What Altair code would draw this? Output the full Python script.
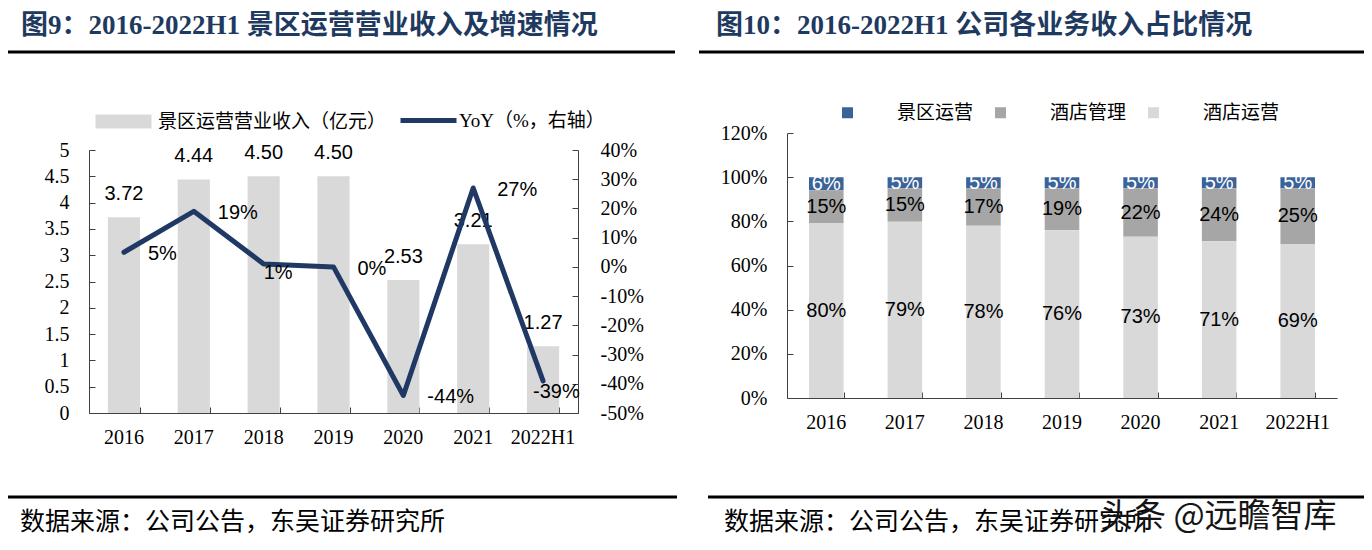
import altair as alt
import pandas as pd

# ---------------- data ----------------
years = ["2016", "2017", "2018", "2019", "2020", "2021", "2022H1"]
revenue = [3.72, 4.44, 4.50, 4.50, 2.53, 3.21, 1.27]          # 景区运营营业收入（亿元）
yoy = [5, 19, 1, 0, -44, 27, -39]                              # YoY (%)

biz = ["景区运营", "酒店管理", "酒店运营"]
share_scenic = [6, 5, 5, 5, 5, 5, 5]
share_hotel_mgmt = [15, 15, 17, 19, 22, 24, 25]
share_hotel_ops = [80, 79, 78, 76, 73, 71, 69]

left_ticks = [0, 0.5, 1, 1.5, 2, 2.5, 3, 3.5, 4, 4.5, 5]
right_ticks = [-50, -40, -30, -20, -10, 0, 10, 20, 30, 40]
pct_ticks = [0, 0.2, 0.4, 0.6, 0.8, 1.0, 1.2]

title_left = "图9：2016-2022H1 景区运营营业收入及增速情况"
title_right = "图10：2016-2022H1 公司各业务收入占比情况"
source_text = "数据来源：公司公告，东吴证券研究所"
watermark = "头条 @远瞻智库"
leg_rev = "景区运营营业收入（亿元）"
leg_yoy = "YoY（%，右轴）"

left_df = pd.DataFrame({"year": years, "rev": revenue, "yoy": yoy})
rows = []
for i, y in enumerate(years):
    for b, vals, o in ((biz[0], share_scenic, 2), (biz[1], share_hotel_mgmt, 1), (biz[2], share_hotel_ops, 0)):
        rows.append({"year": y, "biz": b, "val": vals[i], "ord": o})
right_df = pd.DataFrame(rows)
ann_df = pd.DataFrame({"k": [0]})

# ---------------- styling ----------------
W, H = 1356, 534
SERIF = "Liberation Serif, Times New Roman, Noto Sans CJK SC"
SANS = "Liberation Sans, Arial, Noto Sans CJK SC"
CJK = "Noto Sans CJK SC"
NAVY = "#203864"
TITLE_C = "#1F3A60"
AX = "#404040"
BAR_L = "#D9D9D9"
colors_r = ["#3A639A", "#A6A6A6", "#D9D9D9"]

# left panel geometry
LX0, LX1, LYB, LYT = 81, 570, 405, 142
# right panel geometry
RX0, RX1, RYB, RYT = 779, 1329, 390, 125

LX = alt.Scale(domain=years, range=[LX0, LX1], paddingInner=0.54, paddingOuter=0.27)
LY = alt.Scale(domain=[0, 5], range=[LYB, LYT], nice=False, zero=False)
LY2 = alt.Scale(domain=[-50, 40], range=[LYB, LYT], nice=False, zero=False)
RX = alt.Scale(domain=years, range=[RX0, RX1], paddingInner=0.56, paddingOuter=0.28)
RY = alt.Scale(domain=[0, 1.2], range=[RYB, RYT], nice=False, zero=False)


def tick_axis(orient, offset, values=None, band=False):
    kw = dict(orient=orient, offset=offset, title=None, labels=False, domain=False,
              ticks=True, tickSize=6, tickColor=AX, tickWidth=1, grid=False)
    if values is not None:
        kw["values"] = values
    if band:
        kw["tickBand"] = "extent"
    return alt.Axis(**kw)


x_axis_common = dict(title=None, domain=True, domainColor=AX, domainWidth=1, ticks=False,
                     labelFont=SERIF, labelFontSize=20, labelColor="black", labelAngle=0,
                     labelBaseline="middle", labelPadding=24)
y_axis_common = dict(title=None, domain=True, domainColor=AX, domainWidth=1, ticks=False,
                     grid=False, labelFont=SERIF, labelFontSize=20, labelColor="black",
                     labelFlush=False, labelOverlap=False)

# ---------------- left panel ----------------
bars = alt.Chart(left_df).transform_calculate(s1=f"'{leg_rev}'").mark_bar().encode(
    x=alt.X("year:N", scale=LX, sort=years,
            axis=alt.Axis(orient="bottom", offset=-(H - LYB), **x_axis_common)),
    y=alt.Y("rev:Q", scale=LY,
            axis=alt.Axis(orient="left", offset=-LX0, values=left_ticks, format="~g",
                          labelPadding=20, **y_axis_common)),
    color=alt.Color("s1:N", scale=alt.Scale(range=[BAR_L]),
                    legend=alt.Legend(orient="none", legendX=106, legendY=104, title=None,
                                      symbolType="M-4,-1H4V1H-4Z", symbolSize=196,
                                      symbolStrokeWidth=0, symbolOpacity=1, labelOffset=25,
                                      labelFont=CJK, labelFontSize=19, labelColor="black",
                                      labelLimit=500, padding=0)),
)

bar_text = alt.Chart(left_df).mark_text(font=SANS, fontSize=20, dy=-23, baseline="middle",
                                        color="black").encode(
    x=alt.X("year:N", scale=LX, sort=years, axis=None),
    y=alt.Y("rev:Q", scale=LY, axis=tick_axis("right", -(W - LX0), left_ticks)),
    text=alt.Text("rev:Q", format=".2f"),
)

line = alt.Chart(left_df).transform_calculate(s2=f"'{leg_yoy}'").mark_line(
    strokeWidth=5, strokeCap="round", strokeJoin="round").encode(
    x=alt.X("year:N", scale=LX, sort=years, axis=tick_axis("top", -LYB, band=True)),
    y=alt.Y("yoy:Q", scale=LY2,
            axis=alt.Axis(orient="right", offset=-(W - LX1), values=right_ticks,
                          labelExpr="datum.value + '%'", labelPadding=22, **y_axis_common)),
    stroke=alt.Stroke("s2:N", scale=alt.Scale(range=[NAVY]),
                      legend=alt.Legend(orient="none", legendX=390, legendY=82, title=None,
                                        symbolType="stroke", symbolSize=3136,
                                        symbolStrokeWidth=5, labelOffset=0,
                                        labelFont=SERIF, labelFontSize=19, labelColor="black",
                                        labelLimit=500, padding=0)),
)

line_base = alt.Chart(left_df).transform_calculate(lab="datum.yoy + '%'")
line_text = line_base.transform_filter(
    "datum.year != '2018' && datum.year != '2022H1'").mark_text(
    font=SANS, fontSize=20, align="left", baseline="middle", dx=24, dy=2, color="black").encode(
    x=alt.X("year:N", scale=LX, sort=years, axis=None),
    y=alt.Y("yoy:Q", scale=LY2, axis=tick_axis("left", -LX1, right_ticks)),
    text="lab:N",
)
line_text_18 = line_base.transform_filter("datum.year == '2018'").mark_text(
    font=SANS, fontSize=20, align="left", baseline="middle", dx=0, dy=9, color="black").encode(
    x=alt.X("year:N", scale=LX, sort=years, axis=None),
    y=alt.Y("yoy:Q", scale=LY2, axis=None),
    text="lab:N",
)
line_text_22 = line_base.transform_filter("datum.year == '2022H1'").mark_text(
    font=SANS, fontSize=20, align="left", baseline="middle", dx=-10, dy=11, color="black").encode(
    x=alt.X("year:N", scale=LX, sort=years, axis=None),
    y=alt.Y("yoy:Q", scale=LY2, axis=None),
    text="lab:N",
)

# ---------------- right panel ----------------
base_r = alt.Chart(right_df).transform_stack(
    stack="val", groupby=["year"], as_=["y0", "y1"], offset="normalize",
    sort=[alt.SortField("ord", order="ascending")],
).transform_calculate(mid="(datum.y0 + datum.y1) / 2", lab="datum.val + '%'")

rbars = base_r.mark_bar().encode(
    x=alt.X("year:N", scale=RX, sort=years,
            axis=alt.Axis(orient="bottom", offset=-(H - RYB), **x_axis_common)),
    y=alt.Y("y0:Q", scale=RY,
            axis=alt.Axis(orient="left", offset=-RX0, values=pct_ticks,
                          labelExpr="round(datum.value * 100) + '%'", labelPadding=20,
                          **y_axis_common)),
    y2="y1:Q",
    color=alt.Color("biz:N", scale=alt.Scale(domain=biz, range=colors_r),
                    legend=alt.Legend(orient="none", legendX=830, legendY=95, title=None,
                                      direction="horizontal", symbolType="square",
                                      symbolSize=121, symbolStrokeWidth=0, symbolOpacity=1,
                                      labelOffset=40, columnPadding=17,
                                      labelFont=CJK, labelFontSize=19, labelColor="black",
                                      labelLimit=300, padding=0)),
)

rtext = base_r.mark_text(font=SANS, fontSize=20, baseline="middle").encode(
    x=alt.X("year:N", scale=RX, sort=years, axis=tick_axis("top", -RYB, band=True)),
    y=alt.Y("mid:Q", scale=RY, axis=tick_axis("right", -(W - RX0), pct_ticks)),
    text="lab:N",
    color=alt.when(alt.datum.biz == biz[0]).then(alt.value("white")).otherwise(alt.value("black")),
)

# ---------------- page furniture ----------------
def note(text, x, y, size, weight="normal", color="black", font=CJK):
    return alt.Chart(ann_df).mark_text(align="left", baseline="middle", font=font,
                                       fontSize=size, fontWeight=weight, color=color).encode(
        x=alt.value(x), y=alt.value(y), text=alt.value(text))


def hrule(x0, x1, y, w=3):
    return alt.Chart(ann_df).mark_rule(color="black", strokeWidth=w).encode(
        x=alt.value(x0), x2=alt.value(x1), y=alt.value(y))


furniture = [
    note(title_left, 13, 18, 27, "bold", TITLE_C, SERIF),
    note(title_right, 708, 18, 27, "bold", TITLE_C, SERIF),
    hrule(0, 667, 44), hrule(691, W, 44),
    hrule(0, 669, 489), hrule(700, W, 489),
    note(source_text, 12, 514, 25),
    note(source_text, 716, 514, 25),
    note(watermark, 1092, 509, 33, "normal", "#151515"),
]

chart = alt.layer(
    bars, bar_text, line, line_text, line_text_18, line_text_22,
    rbars, rtext, *furniture,
).resolve_scale(
    x="independent", y="independent", color="independent", stroke="independent"
).resolve_axis(x="independent", y="independent").resolve_legend(
    color="independent", stroke="independent"
).properties(
    width=W, height=H, autosize=alt.AutoSizeParams(type="none"), padding=0,
    background="white",
).configure_view(stroke=None)

chart.save("out.html", embed_options={"renderer": "svg", "actions": False})
